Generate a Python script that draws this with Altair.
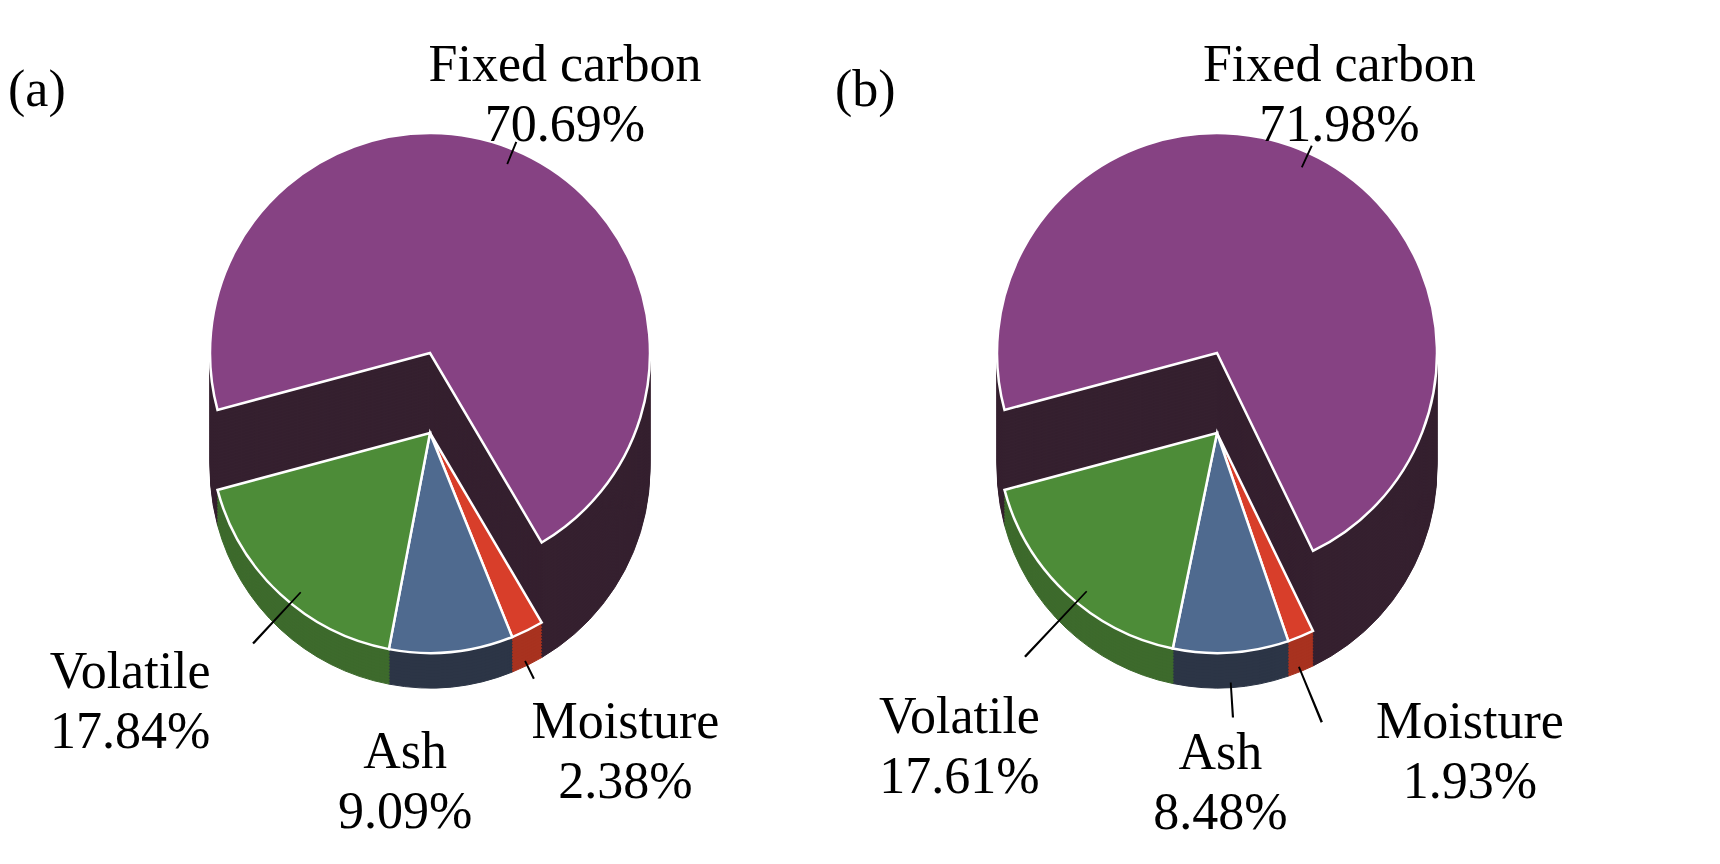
import math
import altair as alt
import pandas as pd

# ---- data ----
categories = ["Fixed carbon", "Moisture", "Ash", "Volatile"]
values_a = [70.69, 2.38, 9.09, 17.84]
values_b = [71.98, 1.93, 8.48, 17.61]
panel_tags = ["(a)", "(b)"]

# ---- style ----
top_colors = ["#864283", "#d83e2a", "#4f6a8f", "#4d8c38"]
side_colors = ["#35202f", "#a8321f", "#2c3546", "#3d6a2c"]
FONT = "Liberation Serif"
FS = 52
R = 220          # pie radius (px)
H = 80           # fixed carbon raised height
D = 35           # thickness of low slices
STEP = 3
START = math.radians(-105)
ts = alt.Scale(domain=[0, 100], range=[START, START + 2 * math.pi])

# label placement per panel: radius, dx, dy
label_style_a = {
    "Fixed carbon": (280, 29, -29),
    "Moisture": (320, 54, 2),
    "Ash": (320, -56, 1),
    "Volatile": (320, -82, 5),
}
label_style_b = {
    "Fixed carbon": (280, 6, -33),
    "Moisture": (320, 131, -7),
    "Ash": (320, -17, 1),
    "Volatile": (320, -38, 51),
}
# leader lines: inner radius, outer radius, yOffset
leader_a = {
    "Fixed carbon": (R - 16, R + 8, -H),
    "Volatile": (R - 30, R + 40, 20),
    "Moisture": (R - 5, R + 15, D),
}
leader_b = {
    "Fixed carbon": (R - 16, R + 8, -H),
    "Volatile": (R - 30, R + 60, 20),
    "Ash": (R - 5, R + 30, D),
    "Moisture": (R - 5, R + 55, D),
}


def panel(values, tag, width, height, cx, cy, tagx, lstyle, leaders):
    df = pd.DataFrame({"name": categories, "value": values, "ord": list(range(len(categories)))})
    df["label"] = [f"{n}\n{v:.2f}%" for n, v in zip(categories, values)]
    base = (
        alt.Chart(df)
        .transform_stack(stack="value", groupby=[], as_=["s0", "s1"],
                         sort=[alt.SortField("ord", order="ascending")])
        .transform_calculate(mid="(datum.s0 + datum.s1) / 2",
                             l0="(datum.s0 + datum.s1) / 2 - 0.07",
                             l1="(datum.s0 + datum.s1) / 2 + 0.07")
    )
    pos = dict(theta=alt.Theta("s0:Q", scale=ts), theta2="s1:Q",
               x=alt.value(cx), y=alt.value(cy))
    layers = []
    fc = base.transform_filter(alt.datum.ord == 0)
    lows = base.transform_filter(alt.datum.ord > 0)
    # fixed carbon sides
    o = D
    while o > -H:
        layers.append(fc.mark_arc(radius=R, yOffset=o, fill=side_colors[0],
                                  stroke=side_colors[0], strokeWidth=1).encode(**pos))
        o -= STEP
    layers.append(fc.mark_arc(radius=R, yOffset=-H, fill=top_colors[0],
                              stroke="white", strokeWidth=2.5).encode(**pos))
    # low slices sides
    o = D
    while o > 0:
        layers.append(lows.mark_arc(radius=R, yOffset=o, strokeWidth=1).encode(
            fill=alt.Fill("name:N", scale=alt.Scale(domain=categories, range=side_colors), legend=None),
            stroke=alt.Stroke("name:N", scale=alt.Scale(domain=categories, range=side_colors), legend=None),
            **pos))
        o -= STEP
    layers.append(lows.mark_arc(radius=R, yOffset=0, stroke="white", strokeWidth=2.5).encode(
        color=alt.Color("name:N", scale=alt.Scale(domain=categories, range=top_colors), legend=None),
        **pos))
    # leader lines (thin radial wedges)
    for name, (r0, r1, yo) in leaders.items():
        layers.append(
            base.transform_filter(alt.datum.name == name)
            .mark_arc(radius=r1, radius2=r0, yOffset=yo, fill="black")
            .encode(theta=alt.Theta("l0:Q", scale=ts), theta2="l1:Q",
                    x=alt.value(cx), y=alt.value(cy))
        )
    # labels
    for name in categories:
        rad, dx, dy = lstyle[name]
        yo = -H if name == "Fixed carbon" else 0
        layers.append(
            base.transform_filter(alt.datum.name == name)
            .mark_text(radius=rad, dx=dx, dy=dy + yo, align="center", baseline="middle",
                       font=FONT, fontSize=FS, lineBreak="\n", lineHeight=60, color="black")
            .encode(theta=alt.Theta("mid:Q", scale=ts), text="label:N",
                    x=alt.value(cx), y=alt.value(cy))
        )
    layers.append(
        alt.Chart(pd.DataFrame({"t": [tag]})).mark_text(
            align="left", baseline="middle", font=FONT, fontSize=FS, color="black")
        .encode(text="t:N", x=alt.value(tagx), y=alt.value(82))
    )
    return alt.layer(*layers).properties(width=width, height=height)


pa = panel(values_a, panel_tags[0], 790, 840, 422, 425, 0, label_style_a, leader_a)
pb = panel(values_b, panel_tags[1], 900, 840, 419, 425, 37, label_style_b, leader_b)

chart = (
    alt.hconcat(pa, pb, spacing=0)
    .properties(padding=0, background="white")
    .configure_view(stroke=None)
)
chart.save("out.html", embed_options={"renderer": "svg", "actions": False})
